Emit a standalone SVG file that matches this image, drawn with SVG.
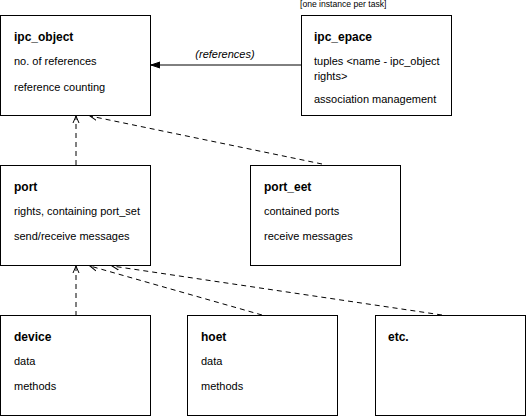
<svg xmlns="http://www.w3.org/2000/svg" width="526" height="416" viewBox="0 0 526 416">
<style>
.box{fill:#fff;stroke:#000;stroke-width:1}
.t{font-family:"Liberation Sans",Arial,sans-serif;font-size:12px;font-weight:bold;fill:#000}
.l{font-family:"Liberation Sans",Arial,sans-serif;font-size:11px;fill:#000}
.s{font-family:"Liberation Sans",Arial,sans-serif;font-size:8.6px;fill:#000}
.d{fill:none;stroke:#000;stroke-width:1;stroke-dasharray:5,4}
.c{fill:none;stroke:#000;stroke-width:1}
</style>
<defs>
<marker id="open" markerWidth="8" markerHeight="8" refX="7" refY="4" orient="auto" markerUnits="userSpaceOnUse">
<path d="M0,1 L7,4 L0,7" fill="none" stroke="#000" stroke-width="1"/>
</marker>
<marker id="fill" markerWidth="10" markerHeight="8" refX="9" refY="4" orient="auto" markerUnits="userSpaceOnUse">
<path d="M0,1 L9,4 L0,7 Z" fill="#000" stroke="#000"/>
</marker>
</defs>
<g id="connectors">
<line class="c" x1="301" y1="65" x2="151" y2="65" marker-end="url(#fill)"/>
<text class="l" x="225" y="58" text-anchor="middle" font-style="italic">(references)</text>
<line class="d" x1="76" y1="165" x2="76" y2="116" marker-end="url(#open)"/>
<line class="d" x1="322" y1="164" x2="90" y2="116" marker-end="url(#open)"/>
<line class="d" x1="76" y1="316" x2="76" y2="266" marker-end="url(#open)"/>
<line class="d" x1="262" y1="315" x2="90" y2="266" marker-end="url(#open)"/>
<line class="d" x1="442" y1="315" x2="112" y2="266" marker-end="url(#open)"/>
</g>
<g id="ipc_object">
<rect class="box" x="0.5" y="15.5" width="150" height="100"/>
<text class="t" x="14" y="41">ipc_object</text>
<text class="l" x="14" y="65">no. of references</text>
<text class="l" x="14" y="91">reference counting</text>
</g>
<g id="ipc_space">
<text class="s" x="300" y="7">[one instance per task]</text>
<rect class="box" x="301.5" y="15.5" width="150" height="100"/>
<text class="t" x="314" y="41">ipc_epace</text>
<text class="l" x="314" y="65">tuples &lt;name - ipc_object</text>
<text class="l" x="314" y="80">rights&gt;</text>
<text class="l" x="314" y="103">association management</text>
</g>
<g id="port">
<rect class="box" x="0.5" y="165.5" width="150" height="100"/>
<text class="t" x="14" y="191">port</text>
<text class="l" x="14" y="215">rights, containing port_set</text>
<text class="l" x="14" y="240">send/receive messages</text>
</g>
<g id="port_set">
<rect class="box" x="250.5" y="165.5" width="150" height="100"/>
<text class="t" x="264" y="191">port_eet</text>
<text class="l" x="264" y="215">contained ports</text>
<text class="l" x="264" y="240">receive messages</text>
</g>
<g id="device">
<rect class="box" x="0.5" y="315.5" width="150" height="100"/>
<text class="t" x="14" y="341">device</text>
<text class="l" x="14" y="365">data</text>
<text class="l" x="14" y="390">methods</text>
</g>
<g id="host">
<rect class="box" x="187.5" y="315.5" width="150" height="100"/>
<text class="t" x="201" y="341">hoet</text>
<text class="l" x="201" y="365">data</text>
<text class="l" x="201" y="390">methods</text>
</g>
<g id="etc">
<rect class="box" x="375.5" y="315.5" width="150" height="100"/>
<text class="t" x="388" y="341">etc.</text>
</g>
</svg>
